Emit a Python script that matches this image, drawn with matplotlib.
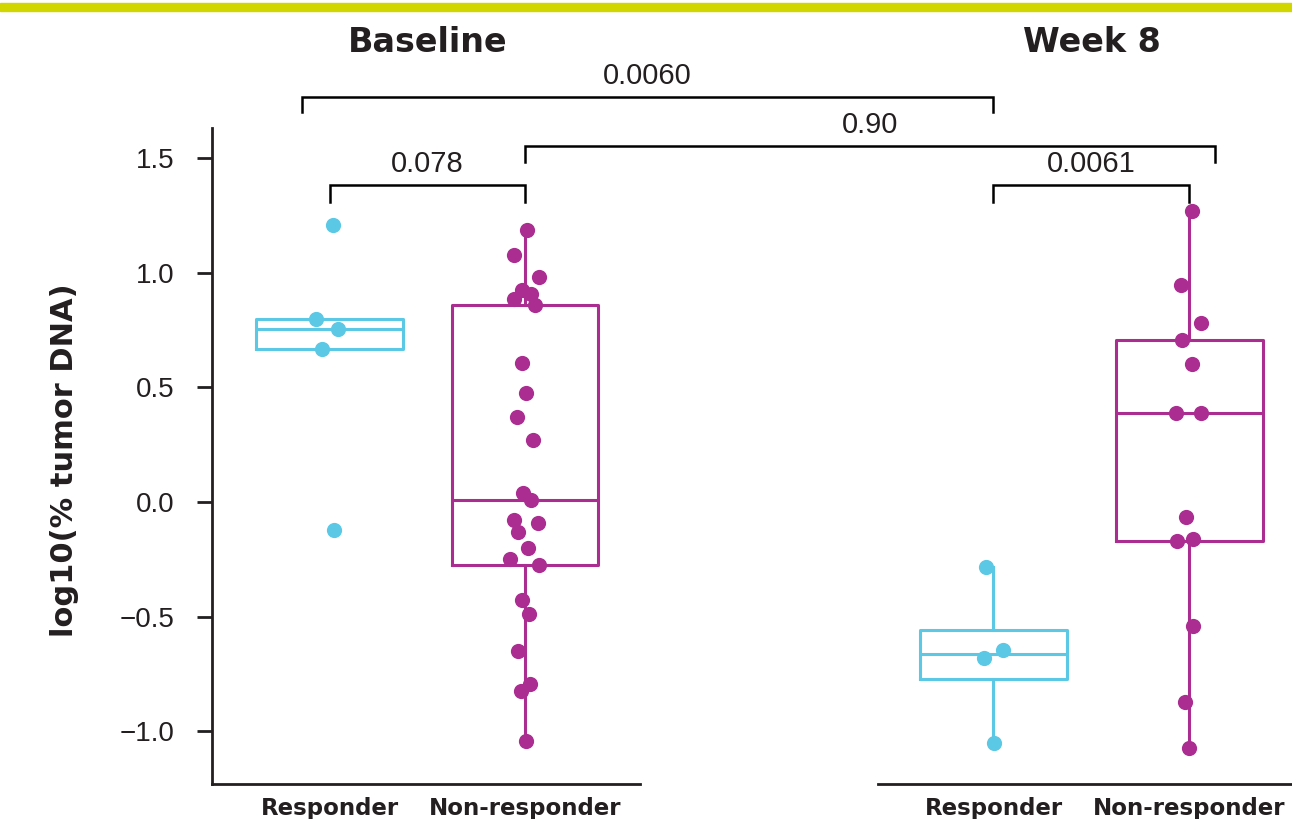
import numpy as np
import matplotlib.pyplot as plt
from matplotlib.patches import Rectangle

# groups / labels
groups = ['Responder', 'Non-responder']
timepoints = ['Baseline', 'Week 8']

# log10(% tumor DNA)
base_resp = [1.209, 0.798, 0.755, 0.668, -0.122]
base_nonresp = [1.187, 1.076, 0.982, 0.925, 0.907, 0.884, 0.860, 0.606, 0.476,
                0.370, 0.269, 0.041, 0.009, -0.080, -0.090, -0.131, -0.201,
                -0.250, -0.275, -0.429, -0.487, -0.649, -0.793, -0.826, -1.043]
wk8_resp = [-0.285, -0.647, -0.682, -1.049]
wk8_nonresp = [1.268, 0.948, 0.780, 0.705, 0.604, 0.388, 0.387, -0.065,
               -0.159, -0.170, -0.541, -0.874, -1.072]

# horizontal jitter of the dots (category units)
base_resp_jit = [0.018, -0.069, 0.043, -0.038, 0.023]
base_nonresp_jit = [0.011, -0.054, 0.073, -0.013, 0.033, -0.057, 0.049, -0.016,
                    0.006, -0.040, 0.043, -0.008, 0.033, -0.057, 0.064, -0.035,
                    0.016, -0.076, 0.069, -0.013, 0.018, -0.035, 0.027, -0.019,
                    0.004]
wk8_resp_jit = [-0.038, 0.048, -0.047, 0.001]
wk8_nonresp_jit = [0.013, -0.042, 0.059, -0.037, 0.013, -0.069, 0.059, -0.018,
                   0.019, -0.062, 0.019, -0.023, 0.0]

p_values = ['0.078', '0.0061', '0.0060', '0.90']

CYAN = '#5bc9e6'
MAG = '#ab2d91'
DARK = '#231f20'
NUM_FONT = 'Liberation Sans'
BOLD_FONT = 'DejaVu Sans'

fig = plt.figure(figsize=(12.92, 8.19), dpi=100)

# yellow band on top
fig.patches.append(Rectangle((0, 1 - 11 / 819), 1, 8 / 819,
                             transform=fig.transFigure, color='#d2d600'))

ax1 = fig.add_axes([212 / 1292, 35 / 819, 428 / 1292, 656 / 819])
ax2 = fig.add_axes([878 / 1292, 35 / 819, 414 / 1292, 656 / 819], sharey=ax1)
ax1.patch.set_visible(False)
ax2.patch.set_visible(False)
ax1.set_zorder(3)


def draw_group(ax, pos, vals, jit, col):
    ax.boxplot([vals], positions=[pos], widths=0.75, showfliers=False,
               showcaps=False, whis=1.5,
               boxprops=dict(color=col, linewidth=2.2),
               whiskerprops=dict(color=col, linewidth=2.2),
               medianprops=dict(color=col, linewidth=2.2))
    ax.scatter(pos + np.array(jit), vals, s=120, color=col, zorder=5,
               linewidths=0, clip_on=False)


draw_group(ax1, 1, base_resp, base_resp_jit, CYAN)
draw_group(ax1, 2, base_nonresp, base_nonresp_jit, MAG)
draw_group(ax2, 1, wk8_resp, wk8_resp_jit, CYAN)
draw_group(ax2, 2, wk8_nonresp, wk8_nonresp_jit, MAG)

ax1.set_xlim(0.399, 2.588)
ax2.set_xlim(0.411, 2.523)
ax1.set_ylim(-1.230, 1.632)
ax1.set_yticks([-1.0, -0.5, 0.0, 0.5, 1.0, 1.5])

for ax in (ax1, ax2):
    ax.set_xticks([1, 2])
    ax.set_xticklabels(groups, fontsize=16.5, fontweight='bold',
                       family=BOLD_FONT, color=DARK)
    ax.tick_params(axis='x', length=0, pad=9)
    ax.spines['top'].set_visible(False)
    ax.spines['right'].set_visible(False)
    ax.spines['bottom'].set_linewidth(2.0)
    ax.spines['bottom'].set_color(DARK)
    ax.text(1.5, 2.007, timepoints[0] if ax is ax1 else timepoints[1],
            ha='center', va='center', fontsize=24, fontweight='bold',
            family=BOLD_FONT, color=DARK, clip_on=False)

ax1.spines['left'].set_linewidth(2.0)
ax1.spines['left'].set_color(DARK)
ax1.tick_params(axis='y', length=11, width=2.0, color=DARK, pad=16,
                labelsize=20, labelcolor=DARK)
for lab in ax1.get_yticklabels():
    lab.set_family(NUM_FONT)
ax2.spines['left'].set_visible(False)
ax2.tick_params(axis='y', left=False, labelleft=False)

fig.text(65 / 1292, 1 - 460 / 819, 'log10(% tumor DNA)', rotation=90,
         ha='center', va='center', fontsize=22, fontweight='bold',
         family=BOLD_FONT, color=DARK)


def x_in_ax1(ax, x):
    disp = ax.transData.transform((x, 0))
    return ax1.transData.inverted().transform(disp)[0]


# brackets: (axis a, x a, axis b, x b, top y, leg bottom y, label)
brackets = [
    (ax1, 1, ax1, 2, 1.383, 1.309, p_values[0]),
    (ax2, 1, ax2, 2, 1.383, 1.309, p_values[1]),
    (ax1, 0.859, ax2, 1, 1.769, 1.702, p_values[2]),
    (ax1, 2, ax2, 2.130, 1.555, 1.485, p_values[3]),
]
for axa, xa, axb, xb, ytop, ybot, lab in brackets:
    x0 = x_in_ax1(axa, xa)
    x1 = x_in_ax1(axb, xb)
    ax1.plot([x0, x0, x1, x1], [ybot, ytop, ytop, ybot], color='black',
             linewidth=1.8, clip_on=False, solid_joinstyle='miter')
    ax1.text((x0 + x1) / 2, ytop + 0.092, lab, ha='center', va='center',
             fontsize=21, family=NUM_FONT, color=DARK, clip_on=False)

fig.savefig('out.png', dpi=100)
